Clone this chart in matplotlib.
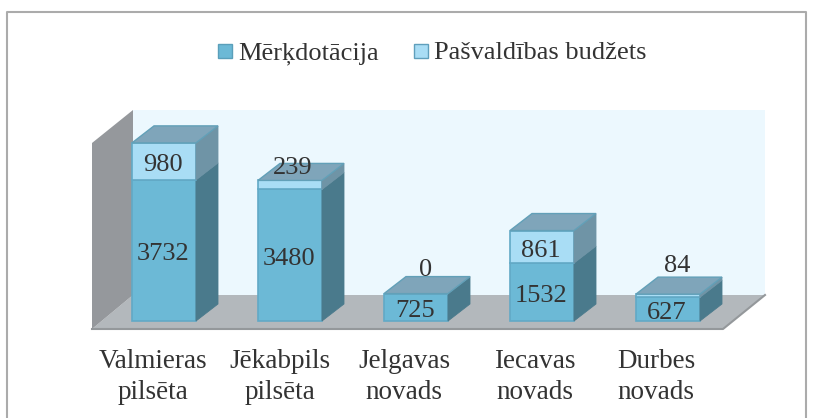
import matplotlib
matplotlib.use("Agg")
import matplotlib.pyplot as plt
from matplotlib.patches import Polygon, Rectangle

plt.rcParams['font.family'] = ['Liberation Serif', 'DejaVu Serif']

categories = ["Valmieras\npilsēta", "Jēkabpils\npilsēta", "Jelgavas\nnovads", "Iecavas\nnovads", "Durbes\nnovads"]
merkdotacija = [3732, 3480, 725, 1532, 627]
budzets = [980, 239, 0, 861, 84]
series_names = ["Mērķdotācija", "Pašvaldības budžets"]

# size of things in pixels, turned into data units below
W, H = 837, 418
PX_X = 126.0        # one category
PX_Y = 0.0378       # pixels for one unit of value
X0_PX, Y0_PX = 164, 321

fig = plt.figure(figsize=(W / 100, H / 100), dpi=100)
ax = fig.add_axes([0, 0, 1, 1])
ax.set_xlim((0 - X0_PX) / PX_X, (W - X0_PX) / PX_X)
ax.set_ylim((Y0_PX - H) / PX_Y, Y0_PX / PX_Y)
ax.axis("off")

def dx(p):
    return p / PX_X

def dy(p):
    return p / PX_Y

bar_w = dx(64)
depth_x = dx(22)
depth_y = dy(17)

# chart border, open at the bottom
ax.plot([dx(7 - X0_PX), dx(7 - X0_PX), dx(806 - X0_PX), dx(806 - X0_PX)],
        [dy(Y0_PX - H), dy(Y0_PX - 12), dy(Y0_PX - 12), dy(Y0_PX - H)],
        color="#ababab", lw=1.5, zorder=1)

# back wall, side wall, floor
left = dx(133 - X0_PX)
right = dx(765 - X0_PX)
front_l = dx(92 - X0_PX)
front_r = dx(723 - X0_PX)
floor_back = dy(Y0_PX - 295)
floor_front = dy(Y0_PX - 329)
wall_top = dy(Y0_PX - 110)
side_top = dy(Y0_PX - 143)
ax.add_patch(Rectangle((left, floor_back), right - left, wall_top - floor_back, fc="#ecf8fe", ec="none", zorder=2))
ax.add_patch(Polygon([(front_l, floor_front), (left, floor_back), (right, floor_back), (front_r, floor_front)],
                     fc="#b3b8bc", ec="none", zorder=2))
ax.add_patch(Polygon([(front_l, floor_front), (front_l, side_top), (left, wall_top), (left, floor_back)],
                     fc="#95989c", ec="none", zorder=2))
ax.plot([front_l, front_r, right], [floor_front, floor_front, floor_back], color="#94989b", lw=1.5, zorder=2)

def box(x, y0, y1, front, side, top=None):
    l, r = x - bar_w / 2, x + bar_w / 2
    ax.add_patch(Rectangle((l, y0), bar_w, y1 - y0, fc=front, ec="#62a9c6", lw=1.2, zorder=3))
    ax.add_patch(Polygon([(r, y0), (r + depth_x, y0 + depth_y), (r + depth_x, y1 + depth_y), (r, y1)],
                         fc=side, ec=side, lw=0.6, zorder=3))
    if top is not None:
        ax.add_patch(Polygon([(l, y1), (l + depth_x, y1 + depth_y), (r + depth_x, y1 + depth_y), (r, y1)],
                             fc=top, ec="#62a0b8", lw=1, zorder=3))

text_c = "#333333"
# small values sit above the bar, pixels (right, up)
small_shift = {1: (3, 16), 2: (10, 28), 4: (9, 32)}
label_shift = [-11, -10, -12, -7, -12]
nudge = dy(-4)      # digits looked too high with va=center
for i, (a, b) in enumerate(zip(merkdotacija, budzets)):
    box(i, 0, a, "#6cb9d6", "#4a7a8c")
    box(i, a, a + b, "#a9ddf5", "#6f94a6", "#7fa5ba")
    ax.text(i + dx(-1), a / 2 + nudge, str(a), ha="center", va="center", fontsize=19, color=text_c, zorder=5)
    sx, sy = small_shift.get(i, (-1, 0))
    ypos = a + b + dy(sy) if i in small_shift else a + b / 2
    ax.text(i + dx(sx), ypos + nudge, str(b), ha="center", va="center", fontsize=19, color=text_c, zorder=5)
    ax.text(i + dx(label_shift[i]), dy(-28), categories[i], ha="center", va="top", fontsize=19.5,
            color=text_c, linespacing=1.32, zorder=5)

# legend
legend_y = dy(Y0_PX - 51)
for x_px, name, col, ec in [(218, series_names[0], "#6cb9d6", "#5a9fba"),
                            (414, series_names[1], "#a9ddf5", "#5f9fbc")]:
    ax.add_patch(Rectangle((dx(x_px - X0_PX), legend_y - dy(7)), dx(14), dy(14), fc=col, ec=ec, lw=1, zorder=5))
    ax.text(dx(x_px + 20 - X0_PX), legend_y - dy(2.5), name, ha="left", va="center", fontsize=19, color=text_c, zorder=5)

fig.savefig("out.png", dpi=100)
